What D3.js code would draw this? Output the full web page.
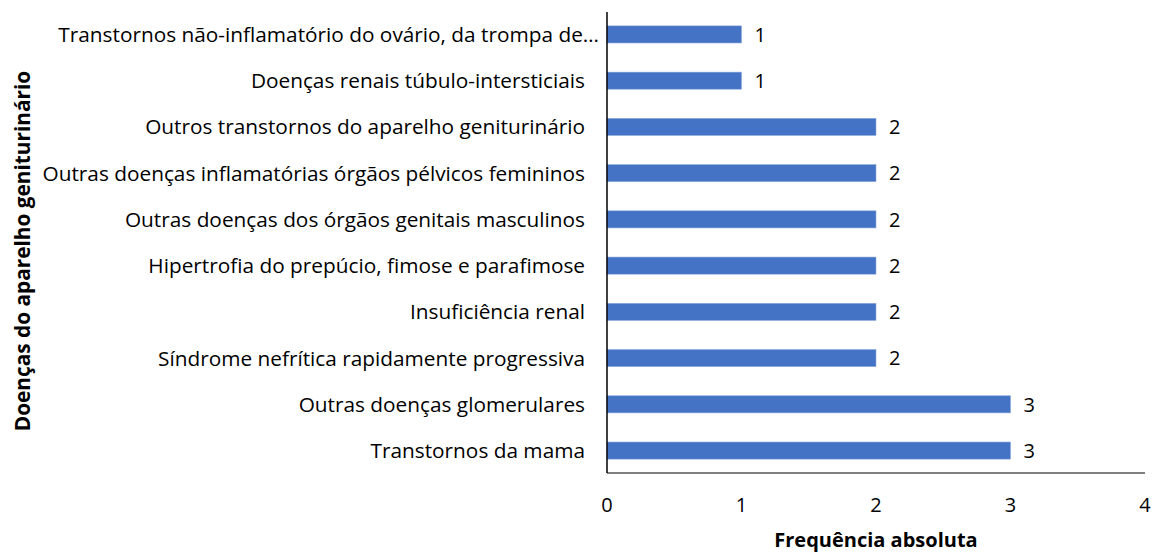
<!DOCTYPE html>
<html>
<head>
<meta charset="utf-8">
<script src="https://cdn.jsdelivr.net/npm/d3@7"></script>
<style>
  html, body { margin: 0; padding: 0; background: #fff; }
  svg { display: block; }
  text { font-family: "Open Sans", Lato, sans-serif; fill: #000; }
</style>
</head>
<body>
<svg id="chart" width="1152" height="553"></svg>
<script>
// Categories listed top to bottom
const categories = [
  "Transtornos não-inflamatório do ovário, da trompa de…",
  "Doenças renais túbulo-intersticiais",
  "Outros transtornos do aparelho geniturinário",
  "Outras doenças inflamatórias órgãos pélvicos femininos",
  "Outras doenças dos órgãos genitais masculinos",
  "Hipertrofia do prepúcio, fimose e parafimose",
  "Insuficiência renal",
  "Síndrome nefrítica rapidamente progressiva",
  "Outras doenças glomerulares",
  "Transtornos da mama"
];
const counts = [1, 1, 2, 2, 2, 2, 2, 2, 3, 3];
const xTicks = [0, 1, 2, 3, 4];
const xTitle = "Frequência absoluta";
const yTitle = "Doenças do aparelho geniturinário";

const svg = d3.select("#chart");
const plotLeft = 607, plotRight = 1145, plotTop = 12, plotBottom = 473;
const labelFs = 20.8, tickFs = 20, titleFs = 20;

const x = d3.scaleLinear().domain([0, 4]).range([plotLeft, plotRight]);
const y = d3.scaleBand().domain(categories).range([plotTop, plotBottom]).paddingInner(0.63).paddingOuter(0.3);

// Bars
svg.append("g").selectAll("rect")
  .data(categories)
  .join("rect")
  .attr("x", x(0))
  .attr("y", d => y(d))
  .attr("width", (d, i) => x(counts[i]) - x(0))
  .attr("height", y.bandwidth())
  .attr("fill", "#4472C4")
  .attr("stroke", "#8eaadb")
  .attr("stroke-width", 0.6);

// Value labels
svg.append("g").selectAll("text")
  .data(categories)
  .join("text")
  .attr("x", (d, i) => x(counts[i]) + 13)
  .attr("y", d => y(d) + y.bandwidth() / 2)
  .attr("dy", "0.36em")
  .attr("font-size", tickFs)
  .text((d, i) => counts[i]);

// Category labels; a truncated label runs closer to the axis
svg.append("g").selectAll("text")
  .data(categories)
  .join("text")
  .attr("x", d => d.endsWith("…") ? plotLeft - 8 : plotLeft - 22)
  .attr("y", d => y(d) + y.bandwidth() / 2)
  .attr("dy", "0.36em")
  .attr("text-anchor", "end")
  .attr("font-size", labelFs)
  .text(d => d);

// Axis lines
svg.append("line")
  .attr("x1", plotLeft).attr("x2", plotLeft)
  .attr("y1", plotTop).attr("y2", plotBottom)
  .attr("stroke", "#000").attr("stroke-width", 1.5);
svg.append("line")
  .attr("x1", plotLeft).attr("x2", plotRight)
  .attr("y1", plotBottom).attr("y2", plotBottom)
  .attr("stroke", "#000").attr("stroke-width", 1.2);

// X tick labels
svg.append("g").selectAll("text")
  .data(xTicks)
  .join("text")
  .attr("x", d => x(d))
  .attr("y", 505)
  .attr("dy", "0.36em")
  .attr("text-anchor", "middle")
  .attr("font-size", tickFs)
  .text(d => d);

// Axis titles
svg.append("text")
  .attr("x", (plotLeft + plotRight) / 2)
  .attr("y", 547)
  .attr("text-anchor", "middle")
  .attr("font-size", titleFs)
  .attr("font-weight", "bold")
  .text(xTitle);

svg.append("text")
  .attr("transform", `translate(30, 251) rotate(-90)`)
  .attr("text-anchor", "middle")
  .attr("font-size", 20.8)
  .attr("font-weight", "bold")
  .text(yTitle);
</script>
</body>
</html>
